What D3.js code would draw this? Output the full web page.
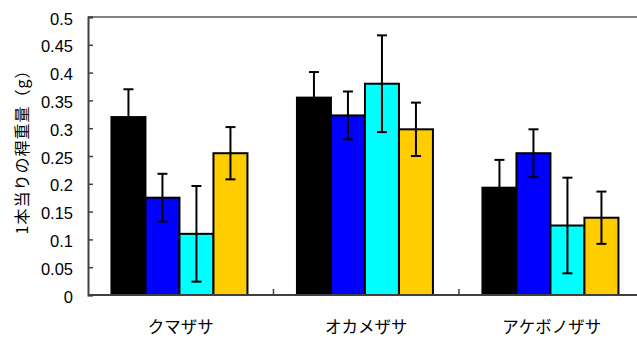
<!DOCTYPE html>
<html>
<head>
<meta charset="utf-8">
<script src="https://cdn.jsdelivr.net/npm/d3@7"></script>
<style>
  html, body { margin: 0; padding: 0; background: #fff; }
  svg { display: block; }
</style>
</head>
<body>
<svg id="chart" width="637" height="340"></svg>
<script>
// Species on the x axis
const categories = ["クマザサ", "オカメザサ", "アケボノザサ"];

// Four treatments per species: mean culm weight per culm (g) and error
const series1 = [0.320, 0.355, 0.193];
const series1Err = [0.050, 0.046, 0.050];
const series2 = [0.175, 0.323, 0.255];
const series2Err = [0.043, 0.043, 0.043];
const series3 = [0.110, 0.380, 0.125];
const series3Err = [0.086, 0.087, 0.086];
const series4 = [0.255, 0.298, 0.139];
const series4Err = [0.047, 0.048, 0.047];

const seriesNames = ["s1", "s2", "s3", "s4"];
const seriesColors = ["#000000", "#0000ff", "#00ffff", "#ffcc00"];

const yTicks = [0, 0.05, 0.1, 0.15, 0.2, 0.25, 0.3, 0.35, 0.4, 0.45, 0.5];
const yTickLabels = ["0", "0.05", "0.1", "0.15", "0.2", "0.25", "0.3", "0.35", "0.4", "0.45", "0.5"];
const yTitle = "1本当りの稈重量（g）";

const values = [series1, series2, series3, series4];
const errors = [series1Err, series2Err, series3Err, series4Err];

const rows = [];
categories.forEach((c, i) => {
  seriesNames.forEach((s, j) => {
    rows.push({ cat: c, series: s, value: values[j][i], err: errors[j][i], color: seriesColors[j] });
  });
});

const svg = d3.select("#chart");
const plotLeft = 88, plotRight = 644.5, plotTop = 17, plotBottom = 295;

const x0 = d3.scaleBand().domain(categories).range([plotLeft, plotRight]).paddingInner(0).paddingOuter(0);
const x1 = d3.scaleBand().domain(seriesNames).range([-1.3, x0.bandwidth() - 1.3])
  .paddingInner(0).paddingOuter(0.728);
const y = d3.scaleLinear().domain([0, 0.5]).range([plotBottom, plotTop]);

// plot area top border
svg.append("line")
  .attr("x1", plotLeft).attr("x2", 637).attr("y1", plotTop).attr("y2", plotTop)
  .attr("stroke", "#808080").attr("stroke-width", 2);

// bars
const g = svg.append("g");
g.selectAll("rect.bar").data(rows).join("rect")
  .attr("class", "bar")
  .attr("x", d => x0(d.cat) + x1(d.series))
  .attr("y", d => y(d.value))
  .attr("width", x1.bandwidth())
  .attr("height", d => y(0) - y(d.value))
  .attr("fill", d => d.color)
  .attr("stroke", "#000").attr("stroke-width", 2);

// error bars
const eb = g.selectAll("g.err").data(rows).join("g").attr("class", "err")
  .attr("transform", d => `translate(${x0(d.cat) + x1(d.series) + x1.bandwidth() / 2},0)`);
eb.append("line")
  .attr("x1", 0).attr("x2", 0)
  .attr("y1", d => y(d.value + d.err)).attr("y2", d => y(d.value - d.err))
  .attr("stroke", "#000").attr("stroke-width", 2);
eb.append("line")
  .attr("x1", -5).attr("x2", 5)
  .attr("y1", d => y(d.value + d.err)).attr("y2", d => y(d.value + d.err))
  .attr("stroke", "#000").attr("stroke-width", 2);
eb.append("line")
  .attr("x1", -5).attr("x2", 5)
  .attr("y1", d => y(d.value - d.err)).attr("y2", d => y(d.value - d.err))
  .attr("stroke", "#000").attr("stroke-width", 2);

// y axis: inward ticks, labels placed separately
const yAxis = d3.axisLeft(y).tickValues(yTicks).tickSize(-5).tickFormat("");
const ya = svg.append("g").attr("transform", `translate(${plotLeft},0)`).call(yAxis);
ya.select(".domain").attr("stroke", "#404040").attr("stroke-width", 2);
ya.selectAll(".tick line").attr("stroke", "#404040").attr("stroke-width", 1.5);

svg.append("g").selectAll("text").data(yTicks).join("text")
  .attr("x", 73)
  .attr("y", d => y(d) + 7.5)
  .attr("text-anchor", "end")
  .attr("font-family", "'Liberation Sans', Arial, sans-serif")
  .attr("font-size", 16.5)
  .attr("fill", "#000")
  .text((d, i) => yTickLabels[i]);

// x axis: ticks at category boundaries, pointing up into the plot
const xa = svg.append("g").attr("transform", `translate(0,${plotBottom})`);
xa.append("line").attr("x1", plotLeft).attr("x2", 637).attr("y1", 0).attr("y2", 0)
  .attr("stroke", "#404040").attr("stroke-width", 2);
xa.selectAll("line.tk").data(categories.slice(1)).join("line").attr("class", "tk")
  .attr("x1", d => x0(d)).attr("x2", d => x0(d))
  .attr("y1", 0).attr("y2", -6)
  .attr("stroke", "#404040").attr("stroke-width", 1.5);

svg.append("g").selectAll("text").data(categories).join("text")
  .attr("x", d => x0(d) + x0.bandwidth() / 2)
  .attr("y", 333)
  .attr("text-anchor", "middle")
  .attr("font-family", "'Noto Sans CJK JP', sans-serif")
  .attr("font-size", 16.5)
  .attr("fill", "#000")
  .text(d => d);

// y axis title
svg.append("text")
  .attr("transform", "translate(28,148) rotate(-90)")
  .attr("text-anchor", "middle")
  .attr("font-family", "'Noto Sans CJK JP', sans-serif")
  .attr("font-size", 16)
  .attr("letter-spacing", 1)
  .attr("fill", "#000")
  .text(yTitle);
</script>
</body>
</html>
